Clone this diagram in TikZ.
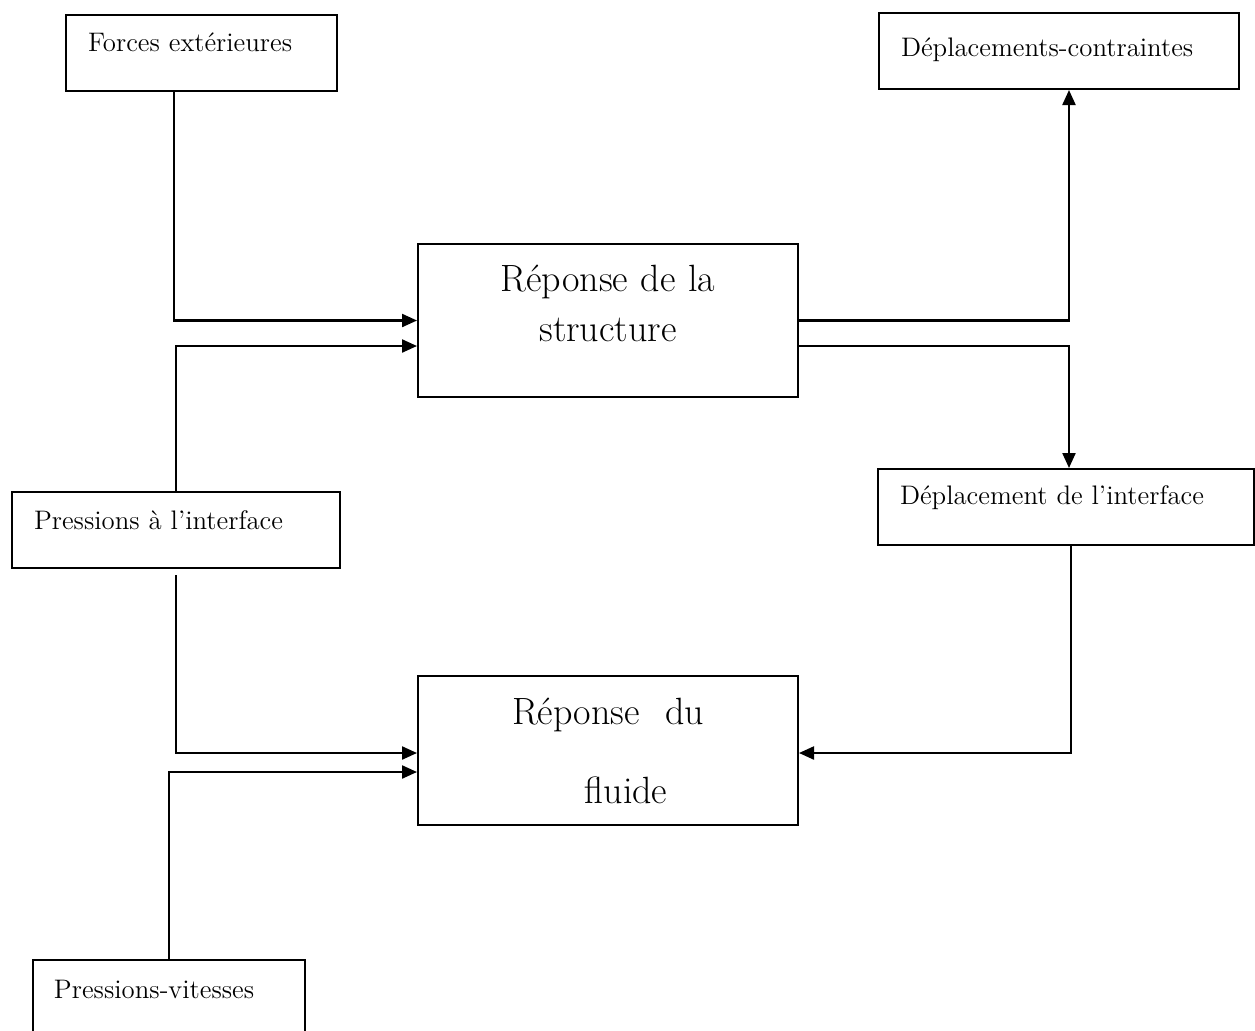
\documentclass[tikz,border=0pt]{standalone}
\usepackage{fontspec}
\usetikzlibrary{arrows.meta, positioning}

\begin{document}
\begin{tikzpicture}[
  x=0.5pt, y=-0.5pt,
  box/.style={
    draw, line width=1pt, anchor=north west, align=left,
    inner xsep=11pt, inner ysep=0pt, text height=18pt, text depth=20pt,
    font=\fontsize{13.4}{16}\selectfont
  },
  bigbox/.style={
    draw, line width=1pt, anchor=north west, align=center,
    inner sep=0pt, text width=190pt,
    font=\fontsize{19}{25}\selectfont
  },
  arrow/.style={-{Triangle[length=7.5pt, width=6.5pt]}, line width=1.1pt}
]
  \useasboundingbox (0,0) rectangle (1255,1030);

  % Blocs centraux
  \node[bigbox, text height=23.5pt, text depth=53pt] (struct) at (417,243) {Réponse de la\\structure};
  \node[bigbox, text height=24pt, text depth=50.5pt] (fluide) at (417,675) {Réponse~~du\\[14.5pt]\hspace*{18pt}f{}luide};

  % Entrées et sorties
  \node[box, text width=113.5pt] (forces) at (65,14) {Forces extérieures};
  \node[box, text width=158pt, text height=21.5pt, text depth=16.5pt] (deplcont) at (878,12) {Déplacements-contraintes};
  \node[box, text width=142pt, text height=18.5pt, text depth=19.5pt] (pressint) at (11,491) {Pressions à l’interface};
  \node[box, text width=166pt, text height=17.5pt, text depth=20.5pt] (deplint) at (877,468) {Déplacement de l’interface};
  \node[box, text width=115pt, inner xsep=10.5pt, text height=19pt, text depth=19pt] (pressvit) at (32,959) {Pressions-vitesses};

  % Liaisons vers la structure
  \draw[arrow] ([xshift=-13.75pt]forces.south) |- (struct.west);
  \draw[arrow] (pressint.north) |- ([yshift=-12.75pt]struct.west);

  % Sorties de la structure
  \draw[arrow] (struct.east) -| ([xshift=5pt]deplcont.south);
  \draw[arrow] ([yshift=-12.75pt]struct.east) -| ([xshift=1.5pt]deplint.north);

  % Liaisons vers le fluide
  \draw[arrow] ([xshift=2.5pt]deplint.south) |- ([yshift=-1.25pt]fluide.east);
  \draw[arrow] ([yshift=-3pt]pressint.south) |- ([yshift=-1.25pt]fluide.west);
  \draw[arrow] (pressvit.north) |- ([yshift=-10.75pt]fluide.west);

\end{tikzpicture}
\end{document}
